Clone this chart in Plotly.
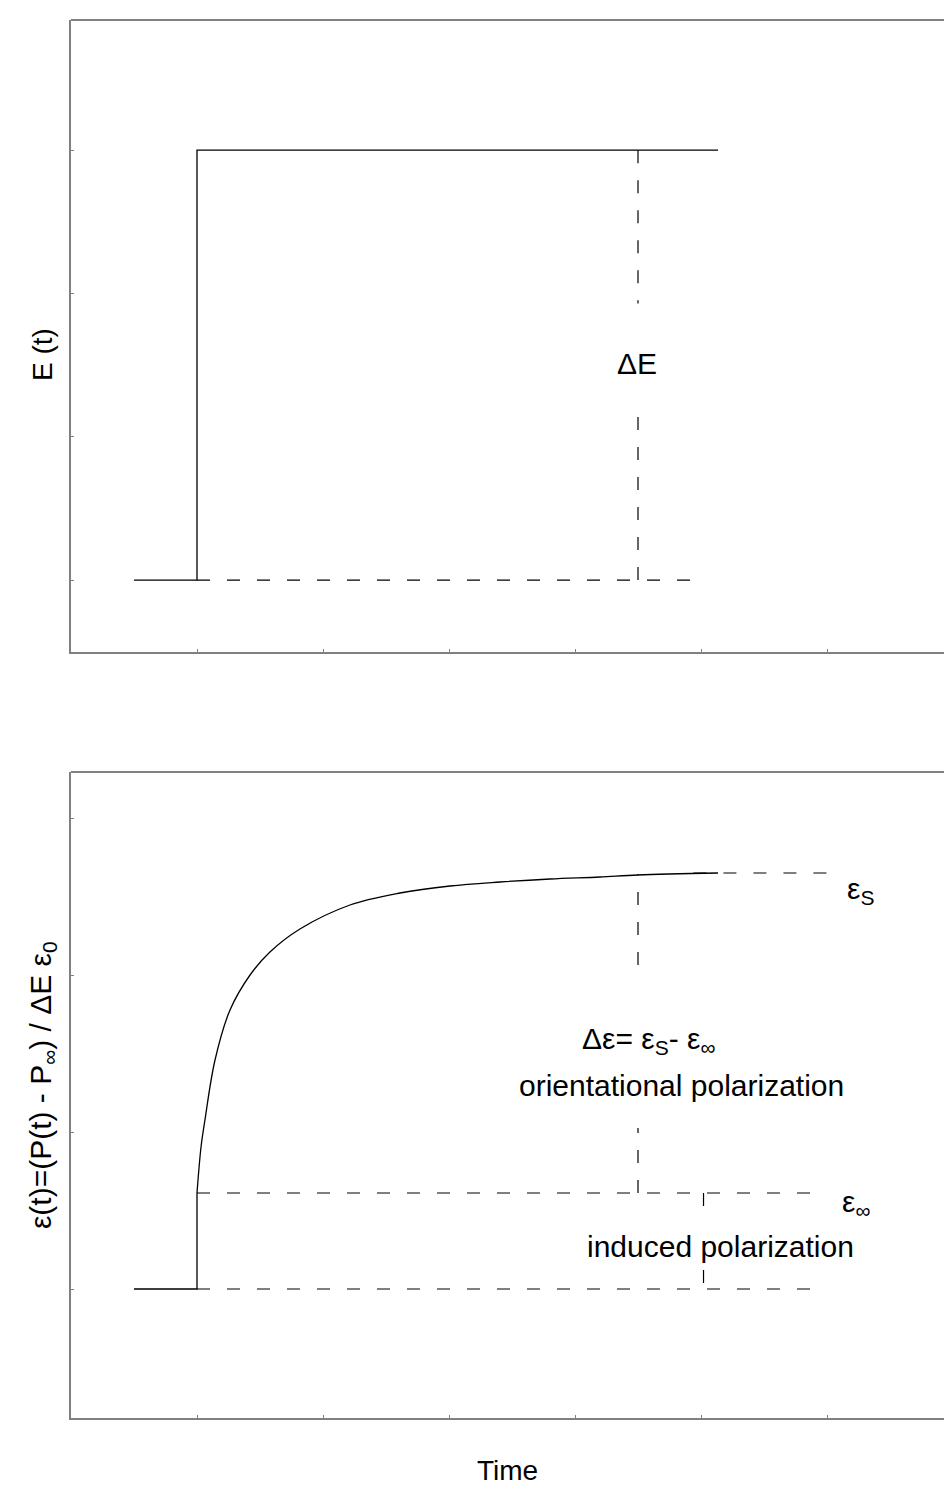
import plotly.graph_objects as go

# ---------------- data (axis units: x in time ticks, y in arbitrary units) ----------------
# top panel: applied field step E(t)
field_x = [0.5, 1.0, 1.0, 5.135]
field_y = [0.0, 0.0, 3.0, 3.0]
field_base_dash_x = [1.0, 4.94]
field_base_dash_y = [0.0, 0.0]
dE_x = 4.5
dE_seg1_y = [3.0, 1.93]
dE_seg2_y = [1.137, 0.0]

# bottom panel: response eps(t)
step_x = [0.5, 1.0, 1.0]
step_y = [0.0, 0.0, 0.96]
curve_x = [1.0, 1.032, 1.063, 1.143, 1.262, 1.421, 1.579, 1.817, 2.214, 2.611,
           3.008, 3.405, 3.802, 4.198, 4.5, 5.135]
curve_y = [0.96, 1.42, 1.69, 2.29, 2.79, 3.14, 3.37, 3.60, 3.84, 3.96,
           4.03, 4.07, 4.10, 4.12, 4.14, 4.16]
eps_s_level = 4.16
eps_inf_level = 0.96
eps_s_dash_x = [4.94, 6.02]
eps_inf_dash_x = [1.0, 5.90]
base_dash_x = [1.0, 5.93]
orient_x = 4.5
orient_seg1_y = [0.96, 1.61]
orient_seg2_y = [3.24, 4.15]
induced_x = 5.02
induced_seg1_y = [0.96, 0.70]
induced_seg2_y = [0.19, 0.0]

x_ticks = [1, 2, 3, 4, 5, 6]
top_y_ticks = [0, 1, 2, 3]
bot_y_ticks = [0, 1.57, 3.14, 4.71]

FONT = "Liberation Sans, Arial, sans-serif"
FS = 28      # axis titles
FA = 30      # annotations
W, H = 944, 1490
DASH = "13px,17px"
FRAME = "#808080"

def py2paper(py):
    return 1 - py / H

fig = go.Figure()

def solid(x, y, xa, ya, shape="linear"):
    fig.add_trace(go.Scatter(x=x, y=y, mode="lines", xaxis=xa, yaxis=ya,
                             line=dict(color="black", width=1.3, shape=shape),
                             showlegend=False, hoverinfo="skip"))

def dashed(x, y, xa, ya):
    fig.add_trace(go.Scatter(x=x, y=y, mode="lines", xaxis=xa, yaxis=ya,
                             line=dict(color="black", width=1.2, dash=DASH),
                             showlegend=False, hoverinfo="skip"))

# top panel
solid(field_x, field_y, "x", "y")
dashed(field_base_dash_x, field_base_dash_y, "x", "y")
dashed([dE_x, dE_x], dE_seg1_y, "x", "y")
dashed([dE_x, dE_x], dE_seg2_y, "x", "y")

# bottom panel
solid(step_x, step_y, "x2", "y2")
solid(curve_x, curve_y, "x2", "y2", shape="spline")
dashed(eps_s_dash_x, [eps_s_level, eps_s_level], "x2", "y2")
dashed(eps_inf_dash_x, [eps_inf_level, eps_inf_level], "x2", "y2")
dashed(base_dash_x, [0, 0], "x2", "y2")
dashed([orient_x, orient_x], orient_seg1_y, "x2", "y2")
dashed([orient_x, orient_x], orient_seg2_y, "x2", "y2")
dashed([induced_x, induced_x], induced_seg1_y, "x2", "y2")
dashed([induced_x, induced_x], induced_seg2_y, "x2", "y2")

x_dom = [71 / W, 1.0]
x_range = [0, (W - 71) / 126]
xcommon = dict(domain=x_dom, range=x_range, showgrid=False, zeroline=False,
               showline=True, linecolor=FRAME, linewidth=2, mirror=False,
               ticks="inside", ticklen=3, tickcolor=FRAME, tickwidth=1,
               tickvals=x_ticks, showticklabels=False, fixedrange=True)
ycommon = dict(showgrid=False, zeroline=False, showline=True, linecolor=FRAME,
               linewidth=2, mirror=False, ticks="inside", ticklen=3,
               tickcolor=FRAME, tickwidth=1, showticklabels=False, fixedrange=True)

fig.update_layout(
    width=W, height=H,
    margin=dict(l=0, r=0, t=0, b=0),
    paper_bgcolor="white", plot_bgcolor="white",
    font=dict(family=FONT, size=FS, color="black"),
    xaxis=dict(anchor="y", **xcommon),
    yaxis=dict(anchor="x", domain=[py2paper(652), py2paper(20)], range=[-0.502, 3.908],
               tickvals=top_y_ticks, **ycommon),
    xaxis2=dict(anchor="y2", **xcommon),
    yaxis2=dict(anchor="x2", domain=[py2paper(1418), py2paper(772)], range=[-1.29, 5.17],
                tickvals=bot_y_ticks, **ycommon),
)

# top frame lines (no right edge visible)
for xr, yr in (("x domain", "y domain"), ("x2 domain", "y2 domain")):
    fig.add_shape(type="line", xref=xr, yref=yr, x0=0, x1=1, y0=1, y1=1,
                  line=dict(color=FRAME, width=2))

def ann(text, x, y, xref, yref, xanchor="center", yanchor="middle", angle=0, size=FA):
    fig.add_annotation(text=text, x=x, y=y, xref=xref, yref=yref, showarrow=False,
                       xanchor=xanchor, yanchor=yanchor, textangle=angle,
                       font=dict(family=FONT, size=size, color="black"))

ann("ΔE", 4.49, 1.514, "x", "y")
ann("ε<sub>S</sub>", 6.143, 3.99, "x2", "y2", xanchor="left")
ann("ε<sub>∞</sub>", 6.103, 0.86, "x2", "y2", xanchor="left")
ann("Δε= ε<sub>S</sub>- ε<sub>∞</sub>", 4.04, 2.49, "x2", "y2", xanchor="left")
ann("orientational polarization", 6.151, 2.04, "x2", "y2", xanchor="right")
ann("induced polarization", 6.23, 0.43, "x2", "y2", xanchor="right")

ann("E (t)", 42 / W, py2paper(355), "paper", "paper", angle=-90, size=FS)
ann("ε(t)=(P(t) - P<sub>∞</sub>) / ΔE ε<sub>0</sub>", 42 / W, py2paper(1085), "paper", "paper",
    angle=-90, size=FA)
ann("Time", (71 + W) / 2 / W, py2paper(1470), "paper", "paper", size=FS)

fig.write_html("out.html")
